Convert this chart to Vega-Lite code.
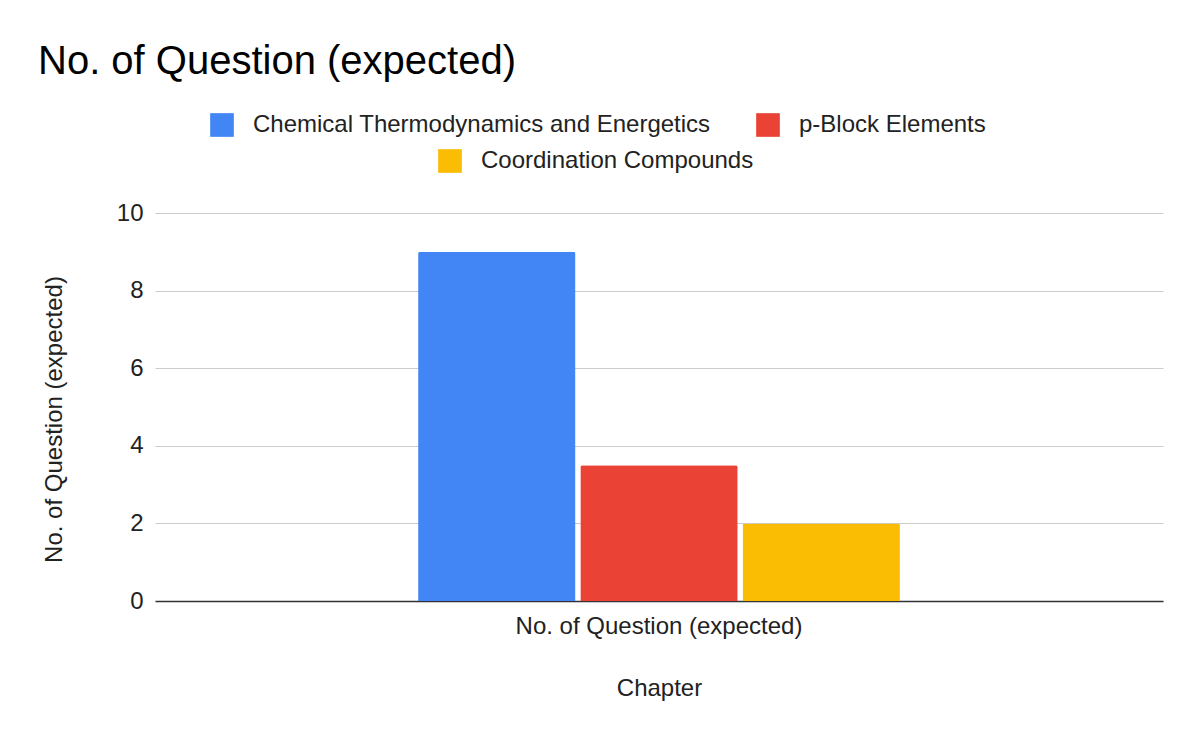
{
  "$schema": "https://vega.github.io/schema/vega-lite/v6.json",
  "width": 1008,
  "height": 388,
  "autosize": {"type": "none"},
  "padding": {"left": 155, "top": 213, "right": 37, "bottom": 141},
  "background": "white",
  "title": {
    "text": "No. of Question (expected)",
    "anchor": "start",
    "frame": "group",
    "dx": -117,
    "dy": -27,
    "font": "Liberation Sans",
    "fontSize": 40,
    "fontWeight": "normal",
    "color": "#000000"
  },
  "config": {
    "view": {"stroke": null},
    "font": "Liberation Sans",
    "legend": {
      "orient": "none",
      "direction": "horizontal",
      "title": null,
      "symbolType": "square",
      "symbolSize": 560,
      "symbolStrokeWidth": 0,
      "labelFont": "Liberation Sans",
      "labelFontSize": 24,
      "labelColor": "#222222",
      "labelLimit": 0,
      "labelOffset": 19,
      "columnPadding": 45,
      "padding": 0
    }
  },
  "data": {
    "values": [
      {"chapter": "No. of Question (expected)", "series": "Chemical Thermodynamics and Energetics", "value": 9},
      {"chapter": "No. of Question (expected)", "series": "p-Block Elements", "value": 3.5},
      {"chapter": "No. of Question (expected)", "series": "Coordination Compounds", "value": 2}
    ]
  },
  "encoding": {
    "x": {
      "field": "chapter",
      "type": "nominal",
      "title": "Chapter",
      "scale": {"paddingInner": 0, "paddingOuter": 0.546},
      "axis": {
        "labelAngle": 0,
        "labelFont": "Liberation Sans",
        "labelFontSize": 24,
        "labelColor": "#222222",
        "labelLimit": 0,
        "labelPadding": 13,
        "ticks": false,
        "domainColor": "#333333",
        "domainWidth": 1.5,
        "titleFont": "Liberation Sans",
        "titleFontSize": 24,
        "titleFontWeight": "normal",
        "titleColor": "#222222",
        "titlePadding": 38
      }
    },
    "xOffset": {
      "field": "series",
      "type": "nominal",
      "scale": {
        "domain": ["Chemical Thermodynamics and Energetics", "p-Block Elements", "Coordination Compounds"],
        "paddingInner": 0.03
      }
    },
    "y": {
      "field": "value",
      "type": "quantitative",
      "title": "No. of Question (expected)",
      "scale": {"domain": [0, 10]},
      "axis": {
        "values": [0, 2, 4, 6, 8, 10],
        "domain": false,
        "ticks": false,
        "gridColor": "#cccccc",
        "labelFont": "Liberation Sans",
        "labelFontSize": 24,
        "labelColor": "#222222",
        "labelPadding": 12,
        "titleFont": "Liberation Sans",
        "titleFontSize": 24,
        "titleFontWeight": "normal",
        "titleColor": "#222222",
        "titlePadding": 50,
        "titleY": 206
      }
    }
  },
  "layer": [
    {
      "transform": [{"filter": "datum.series === 'Coordination Compounds'"}],
      "mark": {"type": "bar", "cornerRadiusTopLeft": 2, "cornerRadiusTopRight": 2},
      "encoding": {
        "color": {
          "field": "series",
          "type": "nominal",
          "scale": {
            "domain": ["Coordination Compounds"],
            "range": ["#fbbc04"]
          },
          "legend": {
            "legendX": 283,
            "legendY": -64
          }
        }
      }
    },
    {
      "transform": [{"filter": "datum.series !== 'Coordination Compounds'"}],
      "mark": {"type": "bar", "cornerRadiusTopLeft": 2, "cornerRadiusTopRight": 2},
      "encoding": {
        "fill": {
          "field": "series",
          "type": "nominal",
          "scale": {
            "domain": ["Chemical Thermodynamics and Energetics", "p-Block Elements"],
            "range": ["#4285f4", "#ea4335"]
          },
          "legend": {
            "columns": 2,
            "legendX": 55,
            "legendY": -100
          }
        }
      }
    }
  ]
}
